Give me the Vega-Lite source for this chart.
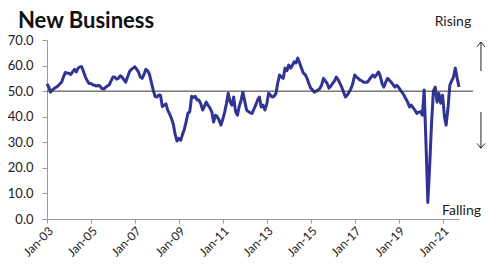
{
  "$schema": "https://vega.github.io/schema/vega-lite/v6.json",
  "width": 412,
  "height": 179,
  "autosize": {"type": "none"},
  "padding": {"left": 47, "top": 40, "right": 29, "bottom": 50},
  "background": "white",
  "config": {
    "view": {"stroke": null},
    "font": "Lato",
    "axis": {"grid": false, "domainColor": "#9a9a9a", "tickColor": "#9a9a9a", "labelColor": "#222222", "labelFont": "Lato", "labelFontSize": 13, "title": null, "labelOverlap": false}
  },
  "title": {"text": "New Business", "anchor": "start", "frame": "group", "dx": -29, "dy": 24, "fontSize": 22, "fontWeight": "bold", "font": "Lato", "color": "#111111", "offset": 6},
  "layer": [
    {
      "data": {"values": [
{"d":"2003-01-01","v":52.8},{"d":"2003-02-01","v":51.5},{"d":"2003-03-01","v":49.6},{"d":"2003-04-01","v":50.5},{"d":"2003-05-01","v":51},{"d":"2003-06-01","v":51.5},{"d":"2003-07-01","v":52},{"d":"2003-08-01","v":52.8},{"d":"2003-09-01","v":53.5},{"d":"2003-10-01","v":55.5},{"d":"2003-11-01","v":57.3},{"d":"2003-12-01","v":57},
{"d":"2004-01-01","v":57},{"d":"2004-02-01","v":56.5},{"d":"2004-03-01","v":57.5},{"d":"2004-04-01","v":58.5},{"d":"2004-05-01","v":57.5},{"d":"2004-06-01","v":59},{"d":"2004-07-01","v":59.5},{"d":"2004-08-01","v":59.5},{"d":"2004-09-01","v":57.5},{"d":"2004-10-01","v":55.5},{"d":"2004-11-01","v":54},{"d":"2004-12-01","v":53},
{"d":"2005-01-01","v":53},{"d":"2005-02-01","v":52.5},{"d":"2005-03-01","v":52.3},{"d":"2005-04-01","v":52},{"d":"2005-05-01","v":52.2},{"d":"2005-06-01","v":52},{"d":"2005-07-01","v":51},{"d":"2005-08-01","v":50.8},{"d":"2005-09-01","v":51.5},{"d":"2005-10-01","v":52},{"d":"2005-11-01","v":52.5},{"d":"2005-12-01","v":54},
{"d":"2006-01-01","v":55.5},{"d":"2006-02-01","v":55.5},{"d":"2006-03-01","v":54.7},{"d":"2006-04-01","v":55},{"d":"2006-05-01","v":56},{"d":"2006-06-01","v":55.5},{"d":"2006-07-01","v":54.5},{"d":"2006-08-01","v":53.5},{"d":"2006-09-01","v":55.5},{"d":"2006-10-01","v":57.5},{"d":"2006-11-01","v":58.5},{"d":"2006-12-01","v":59},
{"d":"2007-01-01","v":59.5},{"d":"2007-02-01","v":58.5},{"d":"2007-03-01","v":57.5},{"d":"2007-04-01","v":55.5},{"d":"2007-05-01","v":55},{"d":"2007-06-01","v":56.5},{"d":"2007-07-01","v":58.5},{"d":"2007-08-01","v":58},{"d":"2007-09-01","v":56.5},{"d":"2007-10-01","v":53.5},{"d":"2007-11-01","v":50.5},{"d":"2007-12-01","v":48},
{"d":"2008-01-01","v":47.7},{"d":"2008-02-01","v":48.5},{"d":"2008-03-01","v":48.4},{"d":"2008-04-01","v":44},{"d":"2008-05-01","v":44.5},{"d":"2008-06-01","v":45},{"d":"2008-07-01","v":42.5},{"d":"2008-08-01","v":41},{"d":"2008-09-01","v":39.3},{"d":"2008-10-01","v":37},{"d":"2008-11-01","v":33},{"d":"2008-12-01","v":30.5},
{"d":"2009-01-01","v":31.5},{"d":"2009-02-01","v":30.8},{"d":"2009-03-01","v":33},{"d":"2009-04-01","v":35},{"d":"2009-05-01","v":38},{"d":"2009-06-01","v":41.3},{"d":"2009-07-01","v":42},{"d":"2009-08-01","v":48},{"d":"2009-09-01","v":47.5},{"d":"2009-10-01","v":48},{"d":"2009-11-01","v":46.5},{"d":"2009-12-01","v":46.5},
{"d":"2010-01-01","v":45},{"d":"2010-02-01","v":42.6},{"d":"2010-03-01","v":44},{"d":"2010-04-01","v":45.7},{"d":"2010-05-01","v":44.5},{"d":"2010-06-01","v":43.4},{"d":"2010-07-01","v":42},{"d":"2010-08-01","v":37.9},{"d":"2010-09-01","v":40.6},{"d":"2010-10-01","v":40},{"d":"2010-11-01","v":38.6},{"d":"2010-12-01","v":36.7},
{"d":"2011-01-01","v":39},{"d":"2011-02-01","v":41.8},{"d":"2011-03-01","v":45},{"d":"2011-04-01","v":49.2},{"d":"2011-05-01","v":46},{"d":"2011-06-01","v":44.5},{"d":"2011-07-01","v":47.7},{"d":"2011-08-01","v":42},{"d":"2011-09-01","v":40.6},{"d":"2011-10-01","v":44},{"d":"2011-11-01","v":46.5},{"d":"2011-12-01","v":49.6},
{"d":"2012-01-01","v":46},{"d":"2012-02-01","v":42.6},{"d":"2012-03-01","v":42},{"d":"2012-04-01","v":41.5},{"d":"2012-05-01","v":41.3},{"d":"2012-06-01","v":43},{"d":"2012-07-01","v":44.5},{"d":"2012-08-01","v":46.5},{"d":"2012-09-01","v":47.7},{"d":"2012-10-01","v":43.8},{"d":"2012-11-01","v":44.5},{"d":"2012-12-01","v":42.6},
{"d":"2013-01-01","v":45},{"d":"2013-02-01","v":49.2},{"d":"2013-03-01","v":48.5},{"d":"2013-04-01","v":47.7},{"d":"2013-05-01","v":48},{"d":"2013-06-01","v":49},{"d":"2013-07-01","v":53},{"d":"2013-08-01","v":56.3},{"d":"2013-09-01","v":55.5},{"d":"2013-10-01","v":55},{"d":"2013-11-01","v":59},{"d":"2013-12-01","v":58},
{"d":"2014-01-01","v":60.2},{"d":"2014-02-01","v":59},{"d":"2014-03-01","v":60},{"d":"2014-04-01","v":61.5},{"d":"2014-05-01","v":61},{"d":"2014-06-01","v":62.9},{"d":"2014-07-01","v":61},{"d":"2014-08-01","v":59},{"d":"2014-09-01","v":57},{"d":"2014-10-01","v":56.5},{"d":"2014-11-01","v":55},{"d":"2014-12-01","v":53},
{"d":"2015-01-01","v":51.2},{"d":"2015-02-01","v":50.5},{"d":"2015-03-01","v":49.6},{"d":"2015-04-01","v":50},{"d":"2015-05-01","v":50.4},{"d":"2015-06-01","v":51},{"d":"2015-07-01","v":52.3},{"d":"2015-08-01","v":55},{"d":"2015-09-01","v":54},{"d":"2015-10-01","v":53},{"d":"2015-11-01","v":51.2},{"d":"2015-12-01","v":52},
{"d":"2016-01-01","v":53},{"d":"2016-02-01","v":54},{"d":"2016-03-01","v":55.5},{"d":"2016-04-01","v":54.5},{"d":"2016-05-01","v":53},{"d":"2016-06-01","v":51.5},{"d":"2016-07-01","v":49.5},{"d":"2016-08-01","v":47.7},{"d":"2016-09-01","v":48.5},{"d":"2016-10-01","v":49.6},{"d":"2016-11-01","v":51},{"d":"2016-12-01","v":53},
{"d":"2017-01-01","v":56.3},{"d":"2017-02-01","v":55.5},{"d":"2017-03-01","v":55},{"d":"2017-04-01","v":54.3},{"d":"2017-05-01","v":54},{"d":"2017-06-01","v":53.5},{"d":"2017-07-01","v":53.5},{"d":"2017-08-01","v":53.5},{"d":"2017-09-01","v":54.5},{"d":"2017-10-01","v":55.5},{"d":"2017-11-01","v":56.3},{"d":"2017-12-01","v":55.5},
{"d":"2018-01-01","v":56.5},{"d":"2018-02-01","v":57.5},{"d":"2018-03-01","v":56},{"d":"2018-04-01","v":53},{"d":"2018-05-01","v":51.6},{"d":"2018-06-01","v":53.5},{"d":"2018-07-01","v":55},{"d":"2018-08-01","v":54.3},{"d":"2018-09-01","v":53.5},{"d":"2018-10-01","v":52.5},{"d":"2018-11-01","v":51.6},{"d":"2018-12-01","v":52.3},
{"d":"2019-01-01","v":51.5},{"d":"2019-02-01","v":50.4},{"d":"2019-03-01","v":49.5},{"d":"2019-04-01","v":48.4},{"d":"2019-05-01","v":47},{"d":"2019-06-01","v":45.7},{"d":"2019-07-01","v":43.8},{"d":"2019-08-01","v":44.5},{"d":"2019-09-01","v":43.5},{"d":"2019-10-01","v":42.5},{"d":"2019-11-01","v":41.3},{"d":"2019-12-01","v":41.8},
{"d":"2020-01-01","v":42},{"d":"2020-02-01","v":40.6},{"d":"2020-03-01","v":50.4},{"d":"2020-04-01","v":29},{"d":"2020-05-01","v":6.5},{"d":"2020-06-01","v":21},{"d":"2020-07-01","v":37},{"d":"2020-08-01","v":50},{"d":"2020-09-01","v":51.6},{"d":"2020-10-01","v":45.7},{"d":"2020-11-01","v":49.2},{"d":"2020-12-01","v":45.3},
{"d":"2021-01-01","v":48.4},{"d":"2021-02-01","v":40},{"d":"2021-03-01","v":36.7},{"d":"2021-04-01","v":43.3},{"d":"2021-05-01","v":52.3},{"d":"2021-06-01","v":54},{"d":"2021-07-01","v":55.5},{"d":"2021-08-01","v":59},{"d":"2021-09-01","v":55},{"d":"2021-10-01","v":51.6}
      ], "format": {"parse": {"d": "date:'%Y-%m-%d'"}}},
      "mark": {"type": "line", "color": "#323494", "strokeWidth": 3, "strokeJoin": "round"},
      "encoding": {
        "x": {"field": "d", "type": "temporal",
          "scale": {"domain": [{"year": 2003, "month": 1, "date": 1}, {"year": 2021, "month": 10, "date": 1}]},
          "axis": {"values": [{"year": 2003, "month": 1, "date": 1}, {"year": 2005, "month": 1, "date": 1}, {"year": 2007, "month": 1, "date": 1}, {"year": 2009, "month": 1, "date": 1}, {"year": 2011, "month": 1, "date": 1}, {"year": 2013, "month": 1, "date": 1}, {"year": 2015, "month": 1, "date": 1}, {"year": 2017, "month": 1, "date": 1}, {"year": 2019, "month": 1, "date": 1}, {"year": 2021, "month": 1, "date": 1}],
            "format": "%b-%y", "labelAngle": -45, "tickSize": 4, "labelPadding": 2, "labelFontSize": 12, "labelOverlap": false}
        },
        "y": {"field": "v", "type": "quantitative",
          "scale": {"domain": [0, 70], "nice": false},
          "axis": {"values": [0, 10, 20, 30, 40, 50, 60, 70], "tickCount": 8, "format": ".1f", "tickSize": 5, "labelPadding": 9, "labelOverlap": false}
        }
      }
    },
    {
      "data": {"values": [{}]},
      "mark": {"type": "rule", "color": "#333333", "strokeWidth": 1},
      "encoding": {
        "y": {"datum": 50, "type": "quantitative", "axis": {"values": [0, 10, 20, 30, 40, 50, 60, 70], "tickCount": 8, "format": ".1f", "tickSize": 5, "labelPadding": 9, "labelOverlap": false}},
        "x": {"datum": {"year": 2003, "month": 1, "date": 1}, "type": "temporal"},
        "x2": {"datum": {"year": 2022, "month": 5, "date": 20}}
      }
    },
    {
      "data": {"values": [{}]},
      "mark": {"type": "text", "text": "Rising", "fontSize": 14, "color": "#222222", "align": "center", "baseline": "middle"},
      "encoding": {
        "x": {"datum": {"year": 2021, "month": 6, "date": 22}, "type": "temporal"},
        "y": {"datum": 77, "type": "quantitative"}
      }
    },
    {
      "data": {"values": [{}]},
      "mark": {"type": "text", "text": "Falling", "fontSize": 14, "color": "#222222", "align": "center", "baseline": "middle"},
      "encoding": {
        "x": {"datum": {"year": 2021, "month": 11, "date": 12}, "type": "temporal"},
        "y": {"datum": 3, "type": "quantitative"}
      }
    },
    {
      "data": {"values": [{}]},
      "mark": {"type": "rule", "color": "#222222", "strokeWidth": 1},
      "encoding": {
        "x": {"datum": {"year": 2022, "month": 10, "date": 1}, "type": "temporal"},
        "y": {"datum": 69.2, "type": "quantitative"},
        "y2": {"datum": 57.8}
      }
    },
    {
      "data": {"values": [{}]},
      "mark": {"type": "rule", "color": "#222222", "strokeWidth": 1},
      "encoding": {
        "x": {"datum": {"year": 2022, "month": 10, "date": 1}, "type": "temporal"},
        "y": {"datum": 41.8, "type": "quantitative"},
        "y2": {"datum": 27.7}
      }
    },
    {
      "data": {"values": [{}]},
      "mark": {"type": "point", "shape": "M-1,1.2L0,0L1,1.2", "filled": false, "stroke": "#222222", "strokeWidth": 1, "size": 64, "opacity": 1},
      "encoding": {
        "x": {"datum": {"year": 2022, "month": 10, "date": 1}, "type": "temporal"},
        "y": {"datum": 69.2, "type": "quantitative"}
      }
    },
    {
      "data": {"values": [{}]},
      "mark": {"type": "point", "shape": "M-1,-1.2L0,0L1,-1.2", "filled": false, "stroke": "#222222", "strokeWidth": 1, "size": 64, "opacity": 1},
      "encoding": {
        "x": {"datum": {"year": 2022, "month": 10, "date": 1}, "type": "temporal"},
        "y": {"datum": 27.7, "type": "quantitative"}
      }
    }
  ]
}
